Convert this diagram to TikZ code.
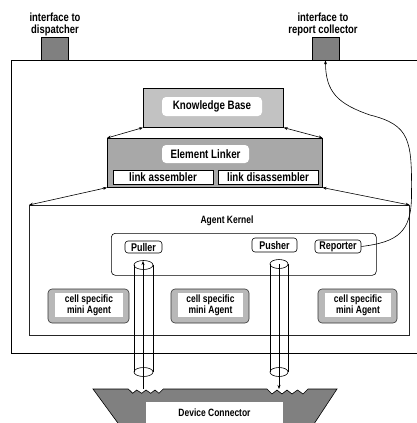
\documentclass[tikz,border=0pt]{standalone}
\usepackage{fontspec}
\setsansfont{Liberation Sans}[FakeStretch=0.8]
\usetikzlibrary{arrows.meta}
\definecolor{darkfill}{gray}{0.5}
\definecolor{kbfill}{gray}{0.76}
\definecolor{linkfill}{gray}{0.66}
\definecolor{agentfill}{gray}{0.72}
\begin{document}
\begin{tikzpicture}[x=1pt,y=-1pt,
  big/.style={font=\sffamily\bfseries\fontsize{12.2}{10}\selectfont},
  head/.style={font=\sffamily\bfseries\fontsize{11.8}{11.2}\selectfont},
  small/.style={font=\sffamily\bfseries\fontsize{10.6}{9.6}\selectfont},
  mid/.style={font=\sffamily\bfseries\fontsize{11.2}{9.6}\selectfont},
  frame/.style={draw, line width=0.6pt, inner sep=0pt, anchor=north west},
  port/.style={draw, line width=0.6pt, fill=darkfill, inner sep=0pt, minimum width=27pt, minimum height=23pt},
  titlebox/.style={big, fill=white, rounded corners=4pt, inner sep=0pt},
  partbox/.style={big, draw, line width=0.6pt, fill=white, inner sep=0pt, minimum width=100pt, minimum height=14pt},
  rolebox/.style={mid, draw, line width=0.6pt, fill=white, rounded corners=3pt, inner sep=0pt},
  agentbox/.style={draw=black!80, line width=0.6pt, fill=agentfill, rounded corners=4pt, inner sep=0pt, minimum height=34pt},
  agenttext/.style={small, fill=white, inner sep=0pt, align=center, minimum height=24pt},
  tube/.style={line width=0.6pt},
  arr/.style={-{Stealth[length=4pt,width=3pt]}, line width=0.6pt},
  dbl/.style={{Stealth[length=4pt,width=3pt]}-{Stealth[length=4pt,width=3pt]}, line width=0.6pt}]
\useasboundingbox (0,0) rectangle (417,423);
\clip (0,0) rectangle (417,423);

% host frame and its two interface ports
\node[frame, minimum width=430pt, minimum height=293pt] (outer) at (11,60) {};
\node[port] (ifd) at (54.5,48.5) {};
\node[port] (ifr) at (325.5,48.5) {};
\node[head, align=center] (ifdl) at (55,24.5) {interface to\\dispatcher};
\node[head, align=center] (ifrl) at (323,24.5) {interface to\\report collector};

% knowledge base
\node[frame, fill=kbfill, minimum width=140pt, minimum height=39pt] (kb) at (143,88) {};
\node[titlebox, minimum width=100pt, minimum height=19pt] (kbt) at (212,106.5) {Knowledge Base};

% element linker
\node[frame, fill=linkfill, minimum width=215pt, minimum height=49pt] (lk) at (107,138) {};
\node[titlebox, minimum width=87pt, minimum height=18pt] (lkt) at (205.5,154) {Element Linker};
\node[partbox] (la) at (163,177) {link assembler};
\node[partbox] (ld) at (268,177) {link disassembler};

\draw[dbl] (kb.south west) -- (lk.north west);
\draw[dbl] (kb.south east) -- (lk.north east);

% agent kernel
\node[frame, draw=black!85, minimum width=380pt, minimum height=130pt] (ak) at (29,205) {};
\node[small] (akt) at (227,221) {Agent Kernel};
\draw[dbl] (lk.south west) -- (ak.north west);
\draw[dbl] (lk.south east) -- (ak.north east);

\node[frame, rounded corners=4pt, minimum width=265pt, minimum height=42pt] (core) at (111,233) {};
\node[rolebox, minimum width=37pt, minimum height=12pt] (pul) at (143.5,247) {Puller};
\node[rolebox, minimum width=45pt, minimum height=14pt] (pus) at (274.5,245) {Pusher};
\node[rolebox, minimum width=46pt, minimum height=13pt] (rep) at (338,246.5) {Reporter};

% cell specific mini agents
\node[agentbox, minimum width=81pt] (m1) at (88.5,306) {};
\node[agenttext, minimum width=68pt] (m1t) at (89,305) {cell specific\\mini Agent};
\node[agentbox, minimum width=78pt] (m2) at (210,306) {};
\node[agenttext, minimum width=65pt] (m2t) at (210.5,305) {cell specific\\mini Agent};
\node[agentbox, minimum width=79pt] (m3) at (357.5,306) {};
\node[agenttext, minimum width=66pt] (m3t) at (358,305) {cell specific\\mini Agent};

% device connector
\filldraw[fill=darkfill, draw=black, line width=0.6pt]
  (93,389) -- (128.3,389) -- (132.7,393.3) -- (136.7,390) -- (141.7,393.3)
  -- (146,390) -- (150.7,393.3) -- (155,390) -- (159,393.3) -- (163.3,389)
  -- (267,389) -- (272,394) -- (277,390) -- (282,394) -- (287,390)
  -- (292,394) -- (297.5,390) -- (303,394) -- (308,389)
  -- (337,389) -- (310,430) -- (123,430) -- cycle;
\node[small, fill=white, inner sep=0pt, minimum width=137pt, minimum height=22pt] (devc) at (214.5,412.5) {Device Connector};

% pipes between kernel and device connector
\draw[tube] (143.5,265) ellipse [x radius=9.5pt, y radius=4.5pt];
\draw[tube] (143.5,372) ellipse [x radius=9.5pt, y radius=4.5pt];
\draw[tube] (134,265) -- (134,372) (153,265) -- (153,372);
\draw[tube] (279,264) ellipse [x radius=9pt, y radius=4.5pt];
\draw[tube] (279,372) ellipse [x radius=9pt, y radius=4.5pt];
\draw[tube] (270,264) -- (270,372) (288,264) -- (288,372);

\coordinate (pullsrc) at (143,389);
\coordinate (pulldst) at (143,261);
\coordinate (pushsrc) at (279,264);
\coordinate (pushdst) at (279,389);
\draw[arr] (pullsrc) -- (pulldst);
\draw[arr] (pushsrc) -- (pushdst);

% report path to the collector interface
\draw[arr] (rep.east) .. controls (398,242) and (411.5,232) .. (411.5,195)
  .. controls (412,140) and (410,125) .. (370,115)
  .. controls (338,104) and (325.5,92) .. (ifr.south);
\end{tikzpicture}
\end{document}
